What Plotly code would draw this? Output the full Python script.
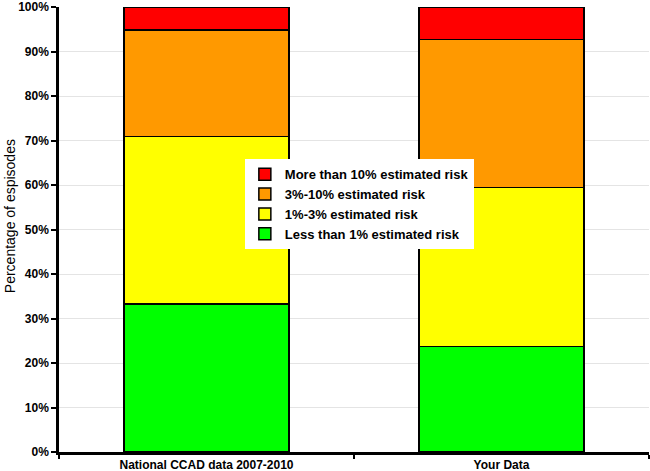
import plotly.graph_objects as go

categories = ["National CCAD data 2007-2010", "Your Data"]
less_1 = [33.3, 23.7]
one_3 = [37.6, 35.8]
three_10 = [24.0, 33.3]
more_10 = [5.1, 7.2]
y_ticks = [0, 10, 20, 30, 40, 50, 60, 70, 80, 90, 100]
y_tick_labels = [f"{v}%" for v in y_ticks]

series = [
    ("Less than 1% estimated risk", less_1, "#00FF00"),
    ("1%-3% estimated risk", one_3, "#FFFF00"),
    ("3%-10% estimated risk", three_10, "#FF9900"),
    ("More than 10% estimated risk", more_10, "#FF0000"),
]

font_family = "Liberation Sans, Arial, sans-serif"

fig = go.Figure()
for name, vals, color in series:
    fig.add_trace(go.Bar(
        x=categories, y=vals, name=name,
        marker=dict(color=color, line=dict(color="black", width=1.5)),
    ))

fig.update_layout(
    barmode="stack",
    bargap=0.44,
    width=650, height=471,
    margin=dict(l=59, r=1, t=7, b=19, autoexpand=False),
    paper_bgcolor="white", plot_bgcolor="white",
    font=dict(family=font_family, size=12, color="black"),
    showlegend=True,
    legend=dict(
        x=0.315, y=0.658, xanchor="left", yanchor="top",
        bgcolor="white", borderwidth=0,
        traceorder="reversed",
        font=dict(family=font_family, size=13, color="black", weight="bold"),
        itemwidth=30,
    ),
    annotations=[dict(
        text="Percentage of espisodes", xref="paper", yref="paper",
        x=-0.083, y=0.53, xanchor="center", yanchor="middle",
        textangle=-90, showarrow=False,
        font=dict(family=font_family, size=14, color="black"),
    )],
)

fig.update_yaxes(
    range=[0, 100.05], tickvals=y_ticks, ticktext=y_tick_labels,
    showgrid=True, gridcolor="#e4e4e4", gridwidth=1,
    showline=True, linecolor="black", linewidth=2.5,
    ticks="outside", ticklen=5, tickwidth=2, tickcolor="black",
    tickfont=dict(family=font_family, size=12, color="black", weight="bold"),
    ticklabeloverflow="allow",
    automargin=False, zeroline=False,
)
fig.update_xaxes(
    showline=True, linecolor="black", linewidth=2.5,
    ticks="outside", tickson="boundaries", ticklen=4, tickwidth=2, tickcolor="black",
    tickfont=dict(family=font_family, size=12, color="black", weight="bold"),
    ticklabeloverflow="allow",
    automargin=False, showgrid=False,
)

fig.write_html(
    "out.html",
    config={"displayModeBar": False},
    post_script="document.body.style.margin='0';document.body.style.overflow='hidden';",
)
